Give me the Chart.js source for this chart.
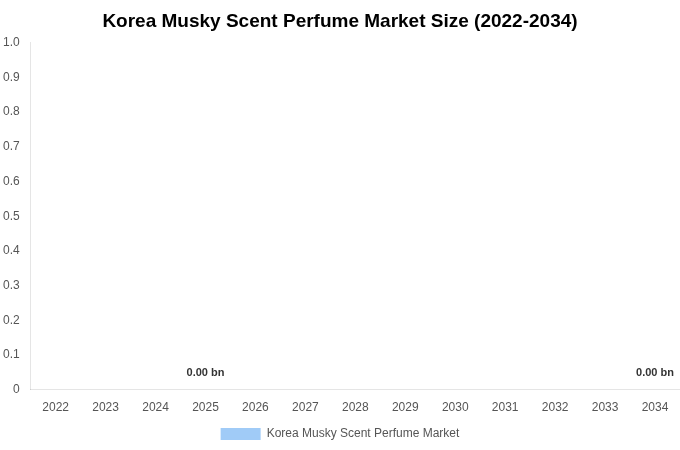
<!DOCTYPE html>
<html><head><meta charset="utf-8">
<script src="https://cdn.jsdelivr.net/npm/chart.js@4"></script>
<style>body{margin:0;background:#fff}#w{width:680px;height:450px}</style>
</head><body><div id="w"><canvas id="c"></canvas></div>
<script>
const categories=['2022','2023','2024','2025','2026','2027','2028','2029','2030','2031','2032','2033','2034'];
const values=[0,0,0,0,0,0,0,0,0,0,0,0,0];
const labeledYears=['2025','2034'];
const yTicks=[0,0.1,0.2,0.3,0.4,0.5,0.6,0.7,0.8,0.9,1.0];
const labelPlugin={id:'lbl',afterDatasetsDraw(ch){
  const {ctx,scales:{x,y}}=ch;ctx.save();
  ctx.font='bold 11px Arial, Liberation Sans';ctx.fillStyle='#333';ctx.textAlign='center';ctx.textBaseline='bottom';
  categories.forEach((c,i)=>{if(labeledYears.includes(c)){ctx.fillText(values[i].toFixed(2)+' bn',x.getPixelForValue(i),y.getPixelForValue(values[i])-11);}});
  ctx.restore();}};
new Chart(document.getElementById('c'),{type:'bar',
data:{labels:categories,datasets:[{label:'Korea Musky Scent Perfume Market',data:values,backgroundColor:'#a0cbf7'}]},
options:{responsive:true,maintainAspectRatio:false,animation:false,
layout:{padding:{right:0,left:0}},
plugins:{title:{display:true,text:'Korea Musky Scent Perfume Market Size (2022-2034)',font:{size:19,weight:'bold',family:'Arial, Liberation Sans'},color:'#000',padding:{top:10,bottom:10}},
legend:{position:'bottom',labels:{color:'#555',font:{size:12,family:'Arial, Liberation Sans'},boxWidth:40,boxHeight:12}},tooltip:{enabled:false}},
scales:{x:{grid:{display:false},ticks:{color:'#555',font:{size:12,family:'Arial, Liberation Sans'}}},
y:{min:0,max:1,grid:{display:false},afterBuildTicks(s){s.ticks=yTicks.map(v=>({value:v}));},
ticks:{color:'#555',font:{size:12,family:'Arial, Liberation Sans'},callback:v=>v===0?'0':v.toFixed(1)}}}},
plugins:[labelPlugin]});
</script></body></html>
